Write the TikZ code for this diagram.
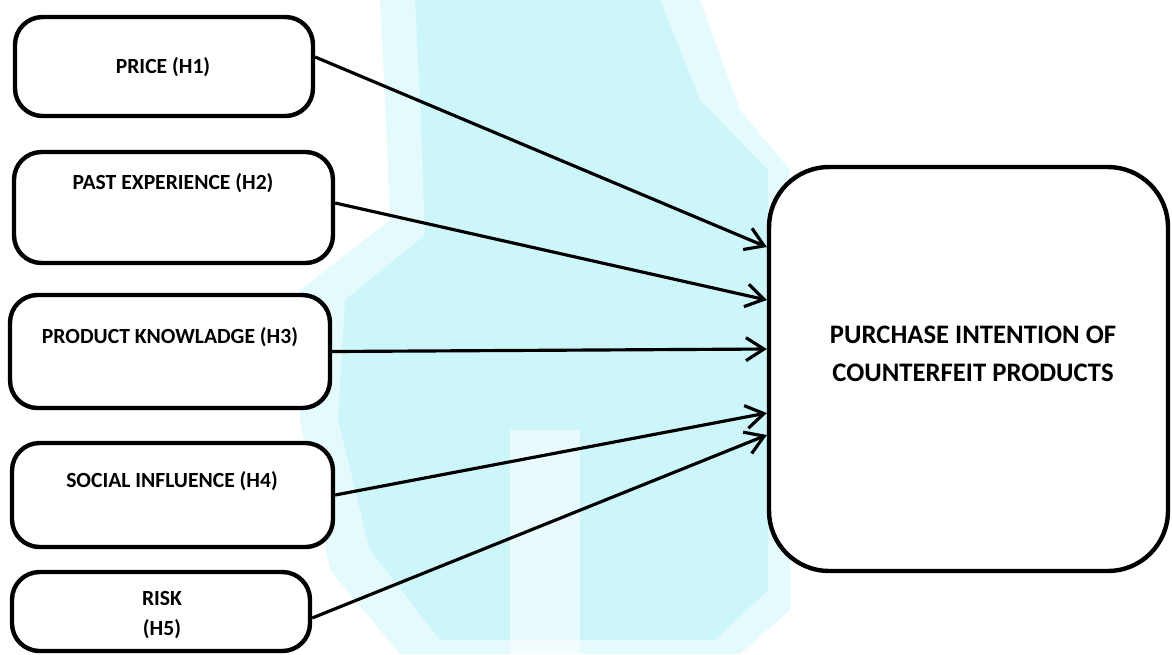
\documentclass[tikz,border=0pt]{standalone}
\usepackage{fontspec}
\setmainfont{Carlito}
\usetikzlibrary{arrows.meta}

\definecolor{wmark}{RGB}{204,246,250}

\tikzset{
  factor/.style={draw, line width=2.5pt, fill=white, rounded corners=0.55cm},
  target/.style={draw, line width=2.5pt, fill=white, rounded corners=1.2cm},
  lbl/.style={font=\fontsize{12.3}{17}\selectfont\bfseries, align=center},
  link/.style={line width=1.8pt, -{Straight Barb[length=3.6mm, width=4.6mm, line width=1.8pt]}}
}

\begin{document}
\begin{tikzpicture}[x=0.02cm, y=-0.02cm]
  \useasboundingbox (0,0) rectangle (1172,654);

  % Background watermark
  \fill[wmark, opacity=0.5] (380,0) -- (700,0) -- (740,110) -- (790,170) -- (790,610) -- (740,654)
    -- (400,654) -- (330,570) -- (300,420) -- (300,290) -- (390,220) -- (385,100) -- cycle;
  \fill[wmark] (415,0) -- (660,0) -- (700,100) -- (768,170) -- (768,590) -- (715,640)
    -- (440,640) -- (370,550) -- (338,420) -- (345,300) -- (425,235) -- (420,100) -- cycle;
  \fill[white, opacity=0.55] (510,430) rectangle (580,654);

  % Factor boxes
  \node[factor, minimum width=5.96cm, minimum height=1.98cm] (price) at (164,66.5) {};
  \node[lbl] at (163,67) {PRICE (H1)};

  \node[factor, minimum width=6.38cm, minimum height=2.22cm] (past) at (173.5,207.5) {};
  \node[lbl] at (173,183) {PAST EXPERIENCE (H2)};

  \node[factor, minimum width=6.4cm, minimum height=2.26cm] (know) at (170,351.5) {};
  \node[lbl] at (170,337) {PRODUCT KNOWLADGE (H3)};

  \node[factor, minimum width=6.42cm, minimum height=2.08cm] (social) at (172.5,495) {};
  \node[lbl] at (172,481) {SOCIAL INFLUENCE (H4)};

  \node[factor, minimum width=5.96cm, minimum height=1.58cm] (risk) at (161,611.5) {};
  \node[lbl] at (162,615) {RISK\\(H5)};

  % Dependent variable
  \node[target, minimum width=7.98cm, minimum height=8.08cm] (intent) at (968.5,369) {};
  \node[lbl, font=\fontsize{15.2}{21.6}\selectfont\bfseries] at (973,354)
    {PURCHASE INTENTION OF\\COUNTERFEIT PRODUCTS};

  % Hypothesised effects
  \draw[link] ([yshift=0.19cm]price.east) -- ([yshift=2.44cm]intent.west);
  \draw[link] ([yshift=0.09cm]past.east) -- ([yshift=1.38cm]intent.west);
  \draw[link] (know.east) -- ([yshift=0.4cm]intent.west);
  \draw[link] (social.east) -- ([yshift=-0.88cm]intent.west);
  \draw[link] ([yshift=-0.13cm]risk.east) -- ([yshift=-1.32cm]intent.west);
\end{tikzpicture}
\end{document}
